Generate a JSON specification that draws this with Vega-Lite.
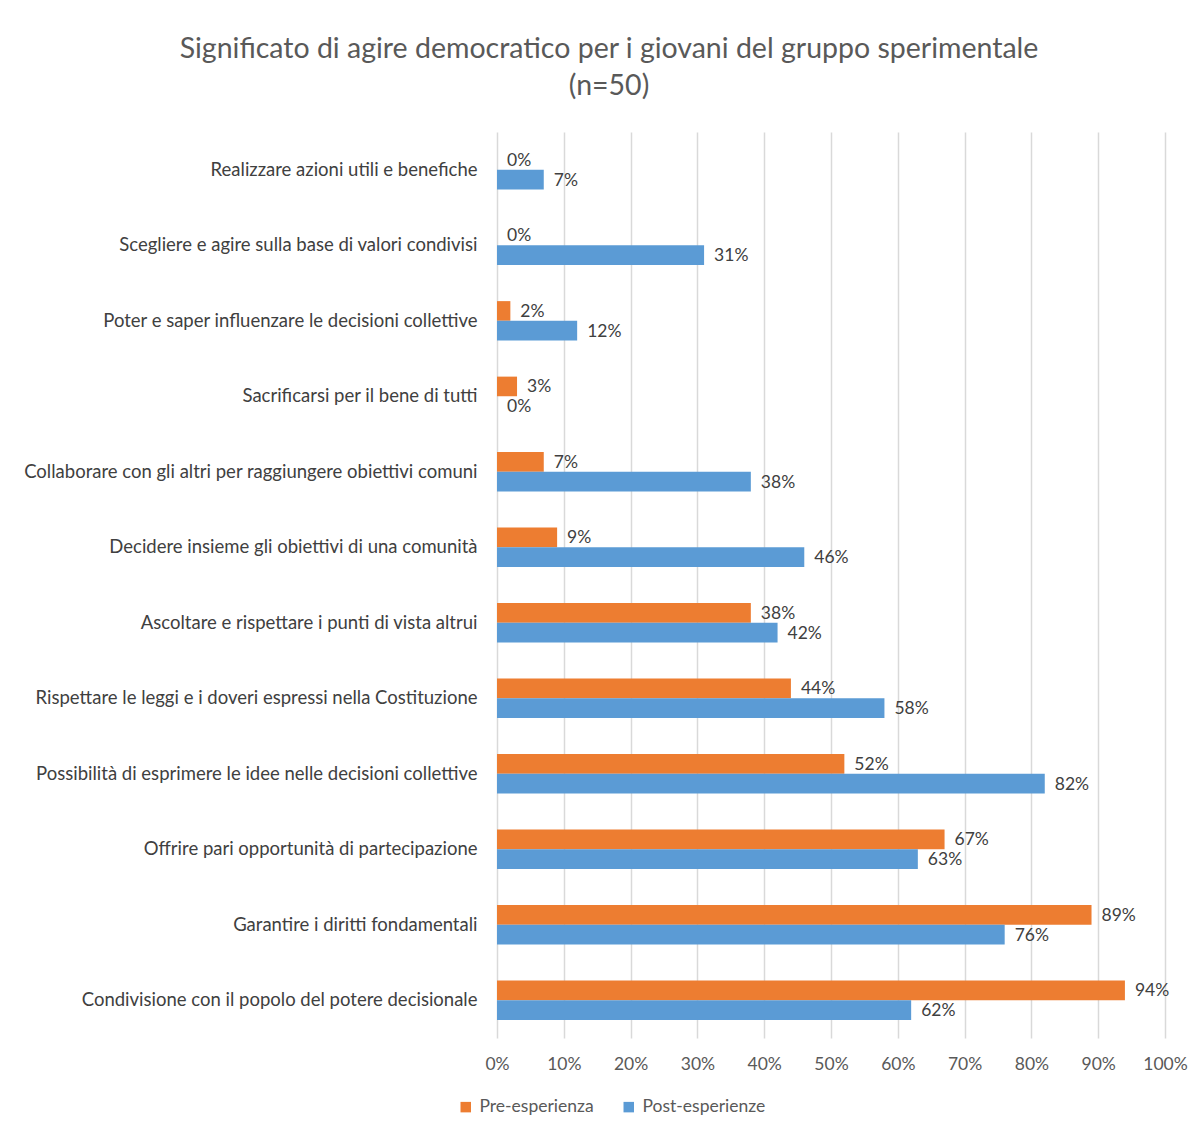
{
  "$schema": "https://vega.github.io/schema/vega-lite/v6.json",
  "autosize": {"type": "none"},
  "width": 668,
  "height": 906,
  "padding": {"left": 497, "top": 132, "right": 35, "bottom": 95},
  "background": "white",
  "title": {
    "text": ["Significato di agire democratico per i giovani del gruppo sperimentale", "(n=50)"],
    "font": "Lato",
    "fontSize": 28.5,
    "fontWeight": "normal",
    "color": "#595959",
    "anchor": "middle",
    "frame": "group",
    "dx": -222,
    "offset": 32,
    "lineHeight": 37
  },
  "data": {
    "values": [
      {"Voce": "Realizzare azioni utili e benefiche", "Serie": "Pre-esperienza", "Valore": 0},
      {"Voce": "Realizzare azioni utili e benefiche", "Serie": "Post-esperienze", "Valore": 7},
      {"Voce": "Scegliere e agire sulla base di valori condivisi", "Serie": "Pre-esperienza", "Valore": 0},
      {"Voce": "Scegliere e agire sulla base di valori condivisi", "Serie": "Post-esperienze", "Valore": 31},
      {"Voce": "Poter e saper influenzare le decisioni collettive", "Serie": "Pre-esperienza", "Valore": 2},
      {"Voce": "Poter e saper influenzare le decisioni collettive", "Serie": "Post-esperienze", "Valore": 12},
      {"Voce": "Sacrificarsi per il bene di tutti", "Serie": "Pre-esperienza", "Valore": 3},
      {"Voce": "Sacrificarsi per il bene di tutti", "Serie": "Post-esperienze", "Valore": 0},
      {"Voce": "Collaborare con gli altri per raggiungere obiettivi comuni", "Serie": "Pre-esperienza", "Valore": 7},
      {"Voce": "Collaborare con gli altri per raggiungere obiettivi comuni", "Serie": "Post-esperienze", "Valore": 38},
      {"Voce": "Decidere insieme gli obiettivi di una comunità", "Serie": "Pre-esperienza", "Valore": 9},
      {"Voce": "Decidere insieme gli obiettivi di una comunità", "Serie": "Post-esperienze", "Valore": 46},
      {"Voce": "Ascoltare e rispettare i punti di vista altrui", "Serie": "Pre-esperienza", "Valore": 38},
      {"Voce": "Ascoltare e rispettare i punti di vista altrui", "Serie": "Post-esperienze", "Valore": 42},
      {"Voce": "Rispettare  le leggi e i doveri espressi nella Costituzione", "Serie": "Pre-esperienza", "Valore": 44},
      {"Voce": "Rispettare  le leggi e i doveri espressi nella Costituzione", "Serie": "Post-esperienze", "Valore": 58},
      {"Voce": "Possibilità di esprimere le idee nelle decisioni collettive", "Serie": "Pre-esperienza", "Valore": 52},
      {"Voce": "Possibilità di esprimere le idee nelle decisioni collettive", "Serie": "Post-esperienze", "Valore": 82},
      {"Voce": "Offrire pari opportunità di partecipazione", "Serie": "Pre-esperienza", "Valore": 67},
      {"Voce": "Offrire pari opportunità di partecipazione", "Serie": "Post-esperienze", "Valore": 63},
      {"Voce": "Garantire i diritti fondamentali", "Serie": "Pre-esperienza", "Valore": 89},
      {"Voce": "Garantire i diritti fondamentali", "Serie": "Post-esperienze", "Valore": 76},
      {"Voce": "Condivisione con il popolo del potere decisionale", "Serie": "Pre-esperienza", "Valore": 94},
      {"Voce": "Condivisione con il popolo del potere decisionale", "Serie": "Post-esperienze", "Valore": 62}
    ]
  },
  "encoding": {
    "y": {
      "field": "Voce",
      "type": "nominal",
      "sort": null,
      "title": null,
      "scale": {"paddingInner": 0.48, "paddingOuter": 0.24},
      "axis": {
        "domain": false,
        "ticks": false,
        "labelFont": "Lato",
        "labelFontSize": 18.5,
        "labelColor": "#404040",
        "labelPadding": 20,
        "labelLimit": 500
      }
    },
    "yOffset": {
      "field": "Serie",
      "type": "nominal",
      "sort": ["Pre-esperienza", "Post-esperienze"]
    },
    "x": {
      "field": "Valore",
      "type": "quantitative",
      "title": null,
      "scale": {"domain": [0, 100], "nice": false},
      "axis": {
        "values": [0, 10, 20, 30, 40, 50, 60, 70, 80, 90, 100],
        "labelExpr": "datum.value + '%'",
        "labelFlush": false,
        "domain": false,
        "ticks": false,
        "grid": true,
        "gridColor": "#d9d9d9",
        "gridWidth": 1.5,
        "labelFont": "Lato",
        "labelFontSize": 17.5,
        "labelColor": "#595959",
        "labelPadding": 17
      }
    }
  },
  "layer": [
    {
      "mark": {"type": "bar"},
      "encoding": {
        "color": {
          "field": "Serie",
          "type": "nominal",
          "sort": ["Pre-esperienza", "Post-esperienze"],
          "scale": {"domain": ["Pre-esperienza", "Post-esperienze"], "range": ["#ED7D31", "#5B9BD5"]},
          "legend": {
            "title": null,
            "orient": "none",
            "direction": "horizontal",
            "legendX": -40,
            "legendY": 966,
            "symbolType": "square",
            "symbolSize": 110,
            "symbolStrokeWidth": 0,
            "labelFont": "Lato",
            "labelFontSize": 17.5,
            "labelColor": "#595959",
            "columnPadding": 26,
            "labelOffset": 5
          }
        }
      }
    },
    {
      "transform": [{"calculate": "datum.Valore + '%'", "as": "Etichetta"}],
      "mark": {"type": "text", "align": "left", "baseline": "middle", "dx": 10, "dy": 1, "font": "Lato", "fontSize": 17.5, "color": "#404040"},
      "encoding": {
        "text": {"field": "Etichetta", "type": "nominal"},
        "detail": {"field": "Serie"}
      }
    }
  ],
  "config": {"view": {"stroke": null}}
}
